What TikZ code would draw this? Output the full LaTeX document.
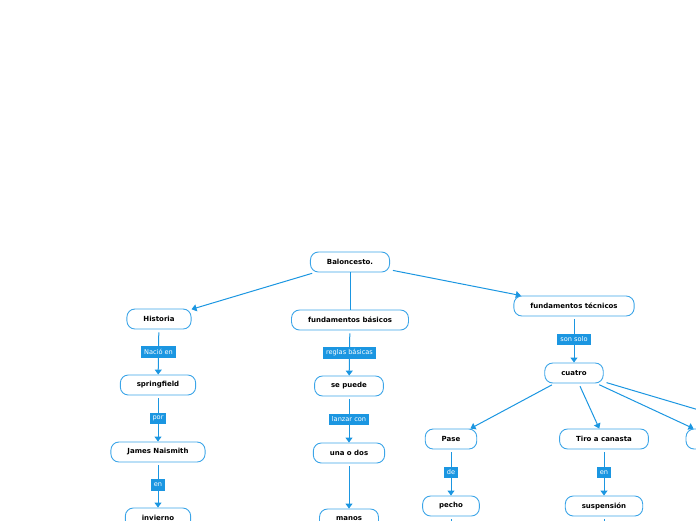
\documentclass[tikz,border=0pt]{standalone}
\usepackage{fontspec}
\newfontfamily\mmfont{DejaVu Sans}
\definecolor{mmblue}{RGB}{27,150,225}
\definecolor{mmedge}{RGB}{60,165,232}
\usetikzlibrary{arrows.meta,positioning}

\begin{document}
\begin{tikzpicture}[x=1pt,y=-1pt,
  bx/.style={draw=mmedge,line width=0.9pt,rounded corners=8pt,minimum height=20pt,inner xsep=16.5pt,fill=white,font=\mmfont\bfseries\fontsize{7}{8}\selectfont},
  lbl/.style={fill=mmblue,text=white,inner xsep=3pt,inner ysep=0pt,minimum height=11.5pt,font=\mmfont\fontsize{6.6}{7.5}\selectfont},
  ln/.style={mmblue,line width=1pt},
  arr/.style={ln,-{Triangle[width=7pt,length=5pt]},shorten <=3pt}]
  \useasboundingbox (0,0) rectangle (696,520);
  \clip (0,0) rectangle (696,520);
  \node[bx] (root) at (350,262) {Baloncesto.};
  \node[bx] (hist) at (159,319) {Historia};
  \node[bx] (basic) at (350,320) {fundamentos básicos};
  \node[bx] (tecn) at (574,306) {fundamentos técnicos};
  \node[bx] (spring) at (158,385) {springfield};
  \node[bx] (puede) at (349,386) {se puede};
  \node[bx] (cuatro) at (574,373) {cuatro};
  \node[bx] (james) at (158,452) {James Naismith};
  \node[bx] (unados) at (349,453) {una o dos};
  \node[bx] (invierno) at (158,518) {invierno};
  \node[bx] (manos) at (349,519) {manos};
  \node[bx] (pase) at (451,439) {Pase};
  \node[bx] (tiro) at (604,439) {Tiro a canasta};
  \node[bx,minimum width=60pt] (otro) at (716,439) {};
  \node[bx] (pecho) at (451,506) {pecho};
  \node[bx] (susp) at (604,506) {suspensión};
  \coordinate (cuatroD) at (800,440);
  \coordinate (pechoB) at (451,560);
  \coordinate (suspB) at (604,560);
  \draw[arr] (root) -- (hist);
  \draw[ln] (root.south) -- (basic.north);
  \draw[arr] (root) -- (tecn);
  \draw[arr] (hist) -- node[lbl] {Nació en} (spring);
  \draw[arr] (spring) -- node[lbl] {por} (james);
  \draw[arr] (james) -- node[lbl] {en} (invierno);
  \draw[arr] (basic) -- node[lbl] {reglas básicas} (puede);
  \draw[arr] (puede) -- node[lbl] {lanzar con} (unados);
  \draw[arr] (unados) -- (manos);
  \draw[arr] (tecn) -- node[lbl] {son solo} (cuatro);
  \draw[arr] (cuatro) -- (pase);
  \draw[arr] (cuatro) -- (tiro);
  \draw[arr] (cuatro) -- (otro);
  \draw[arr] (cuatro) -- (cuatroD);
  \draw[arr] (pase) -- node[lbl] {de} (pecho);
  \draw[arr] (tiro) -- node[lbl] {en} (susp);
  \draw[arr] (pecho) -- (pechoB);
  \draw[arr] (susp) -- (suspB);
\end{tikzpicture}
\end{document}
